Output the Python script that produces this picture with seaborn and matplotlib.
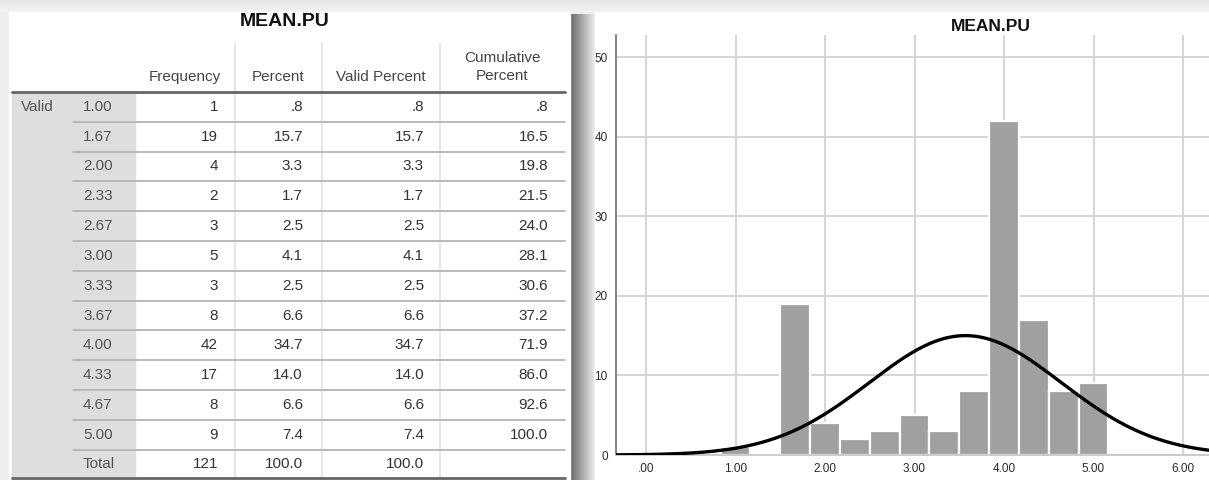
"""SPSS-style frequency table and histogram with normal curve for MEAN.PU."""

import numpy as np
import pandas as pd
import seaborn as sns
import matplotlib.pyplot as plt

# ---- data ----
values = [1.00, 1.67, 2.00, 2.33, 2.67, 3.00, 3.33, 3.67, 4.00, 4.33, 4.67, 5.00]
value_labels = ['1.00', '1.67', '2.00', '2.33', '2.67', '3.00', '3.33', '3.67',
                '4.00', '4.33', '4.67', '5.00']
frequency = [1, 19, 4, 2, 3, 5, 3, 8, 42, 17, 8, 9]
percent = ['.8', '15.7', '3.3', '1.7', '2.5', '4.1', '2.5', '6.6', '34.7', '14.0', '6.6', '7.4']
valid_percent = ['.8', '15.7', '3.3', '1.7', '2.5', '4.1', '2.5', '6.6', '34.7', '14.0', '6.6', '7.4']
cumulative = ['.8', '16.5', '19.8', '21.5', '24.0', '28.1', '30.6', '37.2', '71.9', '86.0', '92.6', '100.0']
total_row = ['121', '100.0', '100.0', '']
headers = ['Frequency', 'Percent', 'Valid Percent', 'Cumulative\nPercent']
x_ticks = [0, 1, 2, 3, 4, 5, 6]
x_tick_labels = ['.00', '1.00', '2.00', '3.00', '4.00', '5.00', '6.00']
y_ticks = [0, 10, 20, 30, 40, 50]
title = 'MEAN.PU'

W, H = 1209, 480
FONT = ['Liberation Sans', 'DejaVu Sans']

sns.set_style('white')
plt.rcParams['font.family'] = FONT

fig = plt.figure(figsize=(W / 100, H / 100), dpi=100, facecolor='#ededed')

# overlay axes in pixel coordinates for the table and panel decoration
ov = fig.add_axes([0, 0, 1, 1])
ov.set_xlim(0, W)
ov.set_ylim(H, 0)
ov.axis('off')

# panels and shadow
ov.add_patch(plt.Rectangle((9, 12), 561, H, color='white', zorder=1))
ov.add_patch(plt.Rectangle((595, 12), W - 595, H, color='white', zorder=1))
ramp = np.linspace(0.40, 0.93, 64)[None, :]
ov.imshow(ramp, cmap='gray', vmin=0, vmax=1, aspect='auto',
          extent=[570, 595, H, 14], zorder=0.5)
top_ramp = np.linspace(0.90, 0.95, 16)[:, None]
ov.imshow(top_ramp, cmap='gray', vmin=0, vmax=1, aspect='auto',
          extent=[0, W, 12, 0], zorder=0.4)

# ---- table ----
TABLE_L, TABLE_R = 12, 565
HEAD_Y = 92
ROW_H = 29.8
LABEL_R = 135
col_edges = [LABEL_R, 235, 322, 440, TABLE_R]
val_right = [218, 303, 424, 548]
n_rows = len(values) + 1
bottom = HEAD_Y + n_rows * ROW_H

ov.text(285, 21, title, ha='center', va='center', fontsize=14,
        fontweight='bold', color='#111111', zorder=3)

ov.add_patch(plt.Rectangle((TABLE_L, HEAD_Y), LABEL_R - TABLE_L, bottom - HEAD_Y,
                           color='#dedede', zorder=2))
for xc in col_edges[1:-1]:
    ov.plot([xc, xc], [43, bottom], color='#e2e2e2', lw=1.2, zorder=2)

for i, h in enumerate(headers):
    cx = (col_edges[i] + col_edges[i + 1]) / 2
    ov.text(cx, 77 if '\n' not in h else 67, h, ha='center', va='center',
            fontsize=11, color='#444444', linespacing=1.35, zorder=3)

rows = list(zip(value_labels, frequency, percent, valid_percent, cumulative))
rows.append(('Total',) + tuple(total_row))
for r, row in enumerate(rows):
    cy = HEAD_Y + (r + 0.5) * ROW_H
    if r == 0:
        ov.text(21, cy, 'Valid', ha='left', va='center', fontsize=11,
                color='#555555', zorder=3)
    ov.text(83, cy, row[0], ha='left', va='center', fontsize=11,
            color='#555555', zorder=3)
    for c, cell in enumerate(row[1:]):
        ov.text(val_right[c], cy, str(cell), ha='right', va='center',
                fontsize=11, color='#333333', zorder=3)
    if r < n_rows - 1:
        ov.plot([73, TABLE_R], [HEAD_Y + (r + 1) * ROW_H] * 2,
                color='#b4b4b4', lw=1.3, zorder=3)

ov.plot([TABLE_L, TABLE_R], [HEAD_Y, HEAD_Y], color='#666666', lw=2, zorder=3)
ov.plot([TABLE_L, TABLE_R], [bottom - 1, bottom - 1], color='#666666', lw=2, zorder=3)

# ---- histogram ----
AX_L, AX_T, AX_B = 616, 35, 455
x_left = -30 / 89.5
x_right = (W - 646) / 89.5
ax = fig.add_axes([AX_L / W, (H - AX_B) / H, (W - AX_L) / W, (AX_B - AX_T) / H])
ax.set_facecolor('white')

hist_df = pd.DataFrame({'value': values, 'count': frequency})
bw = 1 / 3
sns.histplot(data=hist_df, x='value', weights='count', binwidth=bw,
             binrange=(min(values) - bw / 2, max(values) + bw / 2),
             color='#a0a0a0', edgecolor='white', linewidth=1.6, alpha=1,
             ax=ax, zorder=2)

# normal curve from the frequency data
n = sum(frequency)
mean = np.average(values, weights=frequency)
sd = np.sqrt(np.sum(np.array(frequency) * (np.array(values) - mean) ** 2) / (n - 1))
xs = np.linspace(x_left, x_right, 300)
ys = n * bw * np.exp(-0.5 * ((xs - mean) / sd) ** 2) / (sd * np.sqrt(2 * np.pi))
sns.lineplot(x=xs, y=ys, color='black', lw=2.4, ax=ax, zorder=4)

ax.set_xlim(x_left, x_right)
ax.set_ylim(0, 50 + 22 / 7.96)
ax.set_xticks(x_ticks)
ax.set_xticklabels(x_tick_labels)
ax.set_yticks(y_ticks)
ax.tick_params(length=0, labelsize=8.5, colors='#2a2a2a', pad=6)
ax.grid(True, color='#d2d2d2', lw=1.3)
ax.set_axisbelow(True)
ax.set_xlabel('')
ax.set_ylabel('')
for side in ['top', 'right']:
    ax.spines[side].set_visible(False)
ax.spines['left'].set_color('#7a7a7a')
ax.spines['left'].set_linewidth(1.3)
ax.spines['bottom'].set_color('#c8c8c8')
ax.spines['bottom'].set_linewidth(1.3)

ov.text(991, 26.5, title, ha='center', va='center', fontsize=12.5,
        fontweight='bold', color='#111111', zorder=3)

fig.savefig('out.png', dpi=100, facecolor=fig.get_facecolor())
